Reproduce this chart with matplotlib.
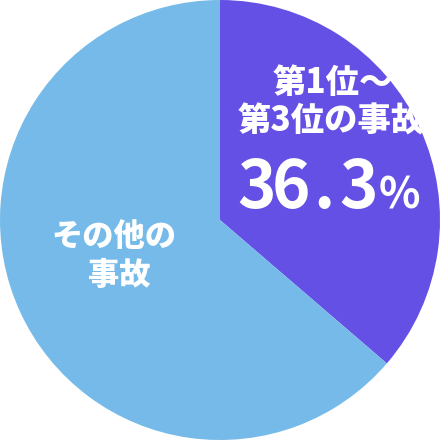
import matplotlib.pyplot as plt

# data
labels = ["第1位～\n第3位の事故", "その他の\n事故"]
values = [36.3, 63.7]
colors = ["#6450E4", "#75BAE8"]

plt.rcParams['font.family'] = ['Noto Sans CJK JP', 'DejaVu Sans']

fig = plt.figure(figsize=(4.4, 4.4), dpi=100)
ax = fig.add_axes([0, 0, 1, 1])
ax.pie(values, colors=colors, startangle=90, counterclock=False, radius=1,
       wedgeprops=dict(linewidth=0))
ax.set_xlim(-1, 1)
ax.set_ylim(-1, 1)
ax.set_aspect('equal')
ax.axis('off')


def px(x, y):
    # pixel position in the 440px image -> data coords
    return (x - 220) / 220, (220 - y) / 220


txt = dict(color='white', fontweight='heavy', ha='center', va='center')

ax.text(*px(333, 82), "第1位～", fontsize=24, **txt)
ax.text(*px(331, 121), "第3位の事故", fontsize=24, **txt)

# big percentage, laid out glyph by glyph for tight spacing
centers = [257, 291, 324, 359]
for ch, cx in zip(f"{values[0]}", centers):
    ax.text(*px(cx, 208), ch, fontsize=47, color='white',
            fontweight='bold', ha='center', va='baseline')
ax.text(*px(379, 208), "%", fontsize=31, color='white',
        fontweight='bold', ha='left', va='baseline')

ax.text(*px(114, 236), "その他の", fontsize=22.5, **txt)
ax.text(*px(119, 275), "事故", fontsize=22.5, **txt)

fig.savefig("out.png", dpi=100)
